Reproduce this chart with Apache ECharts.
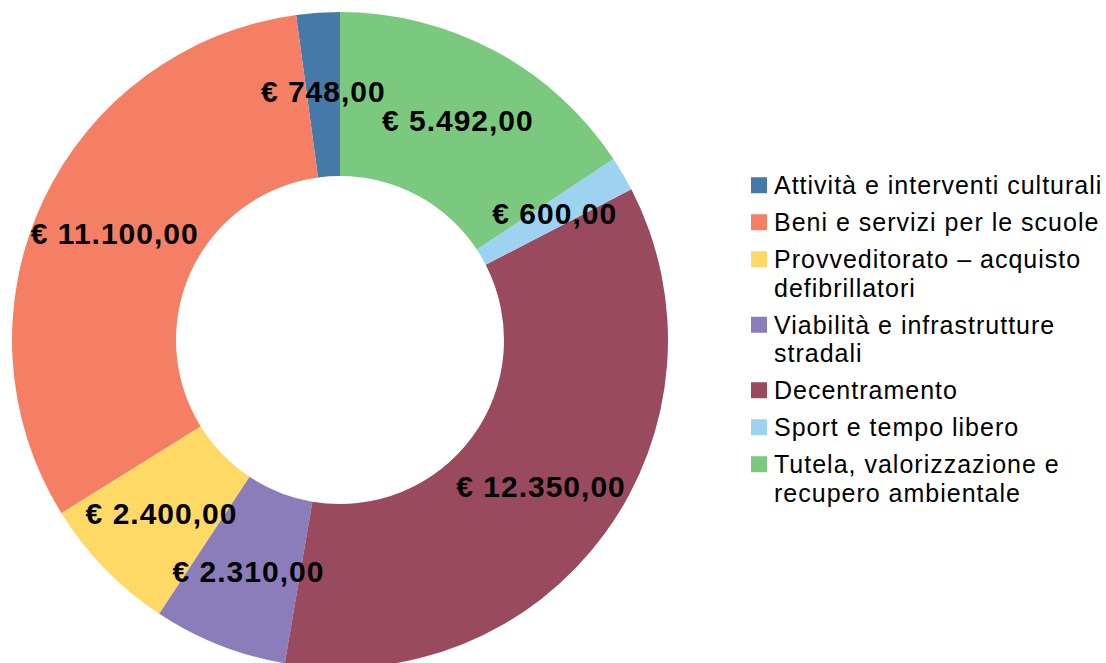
<!DOCTYPE html>
<html>
<head>
<meta charset="utf-8">
<script src="https://cdn.jsdelivr.net/npm/echarts@6/dist/echarts.min.js"></script>
<style>
  html, body { margin: 0; padding: 0; background: #fff; }
  #main { width: 1106px; height: 663px; }
  #main svg text { letter-spacing: 1px; }
</style>
</head>
<body>
<div id="main"></div>
<script>
const categories = [
  'Attività e interventi culturali',
  'Beni e servizi per le scuole',
  'Provveditorato – acquisto defibrillatori',
  'Viabilità e infrastrutture stradali',
  'Decentramento',
  'Sport e tempo libero',
  'Tutela, valorizzazione e recupero ambientale'
];
const legendLines = [
  ['Attività e interventi culturali'],
  ['Beni e servizi per le scuole'],
  ['Provveditorato – acquisto', 'defibrillatori'],
  ['Viabilità e infrastrutture', 'stradali'],
  ['Decentramento'],
  ['Sport e tempo libero'],
  ['Tutela, valorizzazione e', 'recupero ambientale']
];
const values = [748, 11100, 2400, 2310, 12350, 600, 5492];
const colors = ['#4579a7', '#f47f64', '#ffd966', '#8b7dba', '#994a5f', '#9dd2f0', '#7ac97e'];

// € 12.350,00 style
const euro = v => {
  const [int, dec] = v.toFixed(2).split('.');
  return '€ ' + int.replace(/\B(?=(\d{3})+(?!\d))/g, '.') + ',' + dec;
};

const rich = {
  gap: {width: 7, height: 16},
  ind: {width: 23, height: 16}
};
colors.forEach((c, i) => {
  rich['sq' + i] = {width: 16, height: 16, backgroundColor: c};
});

const chart = echarts.init(document.getElementById('main'), null, {renderer: 'svg'});
chart.setOption({
  animation: false,
  color: colors,
  legend: {
    orient: 'vertical',
    left: 746,
    top: 171,
    padding: 0,
    itemWidth: 0,
    itemHeight: 0,
    itemGap: 8.5,
    selectedMode: false,
    data: categories,
    formatter: name => {
      const i = categories.indexOf(name);
      return legendLines[i].map((line, k) =>
        (k === 0 ? '{sq' + i + '|}{gap|}' : '{ind|}') + line
      ).join('\n');
    },
    textStyle: {
      fontFamily: 'Liberation Sans',
      fontSize: 25,
      lineHeight: 28.5,
      color: '#000',
      rich: rich
    }
  },
  series: [{
    type: 'pie',
    center: [340, 340],
    radius: [164, 328],
    startAngle: 90,
    clockwise: false,
    avoidLabelOverlap: false,
    emphasis: {disabled: true},
    itemStyle: {borderWidth: 0},
    label: {
      show: true,
      position: 'inside',
      formatter: p => euro(p.value),
      fontFamily: 'Liberation Sans',
      fontWeight: 'bold',
      fontSize: 30,
      color: '#000',
      textBorderWidth: 0
    },
    labelLine: {show: false},
    data: categories.map((name, i) => ({name: name, value: values[i]}))
  }]
});
</script>
</body>
</html>
